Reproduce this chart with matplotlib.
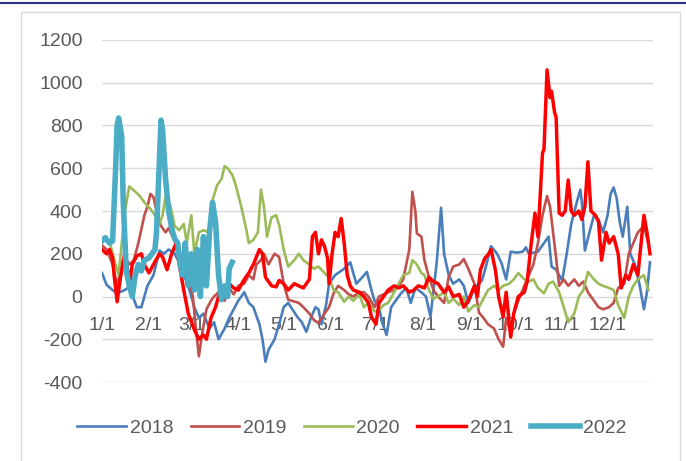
import matplotlib
matplotlib.use("Agg")
import matplotlib.pyplot as plt
from matplotlib.lines import Line2D
from matplotlib.patches import Rectangle

plt.rcParams['font.family'] = ['Liberation Sans', 'DejaVu Sans']
plt.rcParams['axes.unicode_minus'] = False

# day of year (0 = Jan 1) and value for each year
d2018 = [0, 3, 7, 10, 15, 18, 23, 26, 30, 34, 38, 41, 44, 48, 51, 54, 57, 61, 64, 67,
         71, 74, 77, 81, 84, 87, 90, 94, 97, 100, 104, 106, 108, 110, 114, 117, 120, 123, 129, 132,
         135, 138, 141, 143, 145, 148, 150, 154, 160, 164, 166, 168, 172, 175, 178, 180, 183, 185, 188, 191,
         194, 197, 201, 204, 207, 211, 214, 217, 219, 221, 224, 226, 229, 232, 236, 239, 242, 246, 251, 254,
         257, 261, 264, 267, 270, 274, 278, 280, 282, 285, 288, 292, 295, 297, 300, 304, 307, 310, 314, 316,
         317, 319, 322, 325, 328, 331, 334, 336, 338, 340, 342, 344, 347, 349, 352, 355, 358, 360, 362]
v2018 = [110, 55, 30, 15, 30, 45, -50, -50, 50, 100, 215, 200, 220, 200, 160, 100, 50, -50, -100, -80,
         -150, -120, -200, -150, -100, -60, -20, 20, -30, -50, -130, -200, -305, -250, -200, -130, -50, -30, -95, -120,
         -165, -100, -50, -60, -130, -40, 60, 100, 130, 160, 110, 60, 90, 115, 30, -20, -50, -120, -180, -50,
         -20, 10, 40, -30, 40, 20, 0, -95, 30, 150, 415, 200, 100, 60, 80, 50, -30, 40, 75, 150,
         235, 200, 155, 80, 210, 205, 210, 230, 200, 205, 210, 250, 280, 140, 125, 75, 200, 340, 450, 500,
         440, 215, 300, 380, 360, 300, 380, 480, 510, 460, 350, 280, 420, 200, 150, 60, -60, 20, 160]

d2019 = [0, 3, 7, 10, 13, 15, 18, 21, 24, 28, 30, 32, 34, 36, 39, 42, 44, 48, 51, 54,
         57, 60, 62, 64, 66, 69, 72, 74, 77, 81, 84, 87, 90, 94, 97, 100, 102, 105, 107, 110,
         114, 117, 120, 123, 130, 133, 137, 140, 143, 147, 150, 153, 156, 160, 163, 166, 170, 173, 176, 180,
         183, 186, 189, 193, 196, 199, 201, 203, 205, 207, 208, 211, 213, 216, 219, 222, 226, 229, 232, 236,
         239, 242, 246, 249, 252, 255, 259, 262, 265, 267, 270, 272, 275, 279, 282, 285, 288, 291, 294, 296,
         298, 300, 302, 305, 308, 312, 315, 318, 321, 325, 328, 331, 335, 338, 341, 345, 348, 351, 354, 358, 361]
v2019 = [240, 220, 150, 50, 150, 190, 150, 170, 250, 380, 420, 480, 465, 400, 330, 300, 320, 260, 200, 150,
         100, 0, -150, -280, -180, -60, -20, 0, 20, -20, 40, 10, 50, 60, 100, 80, 150, 170, 200, 150,
         200, 185, 60, -15, -30, -50, -80, -110, -125, -80, -50, 15, 50, 30, 10, 0, 20, 20, 0, -50,
         0, 10, 20, 30, 50, 80, 150, 220, 490, 400, 295, 280, 170, 90, 30, 0, -30, 90, 140, 150,
         175, 130, 60, -75, -100, -130, -150, -200, -235, -100, -170, -80, -20, 50, 100, 150, 250, 380, 470, 420,
         300, 180, 50, 80, 50, 80, 50, 70, 20, -20, -50, -60, -50, -30, 40, 60, 200, 250, 300, 330, 250]

d2020 = [0, 3, 6, 9, 11, 15, 18, 22, 25, 28, 32, 35, 38, 40, 42, 45, 48, 51, 54, 56,
         59, 61, 64, 67, 71, 73, 76, 79, 81, 83, 86, 88, 92, 95, 97, 100, 103, 105, 107, 109,
         112, 115, 117, 120, 123, 127, 130, 133, 137, 140, 143, 147, 150, 153, 156, 160, 163, 166, 170, 173,
         176, 180, 183, 186, 189, 193, 196, 199, 203, 205, 208, 211, 213, 216, 219, 222, 226, 229, 232, 236,
         239, 242, 246, 249, 252, 255, 259, 262, 265, 269, 272, 275, 279, 282, 285, 288, 292, 295, 298, 302,
         305, 308, 312, 315, 318, 321, 325, 328, 331, 335, 338, 341, 345, 348, 351, 354, 358, 361]
v2020 = [255, 280, 230, 150, 100, 390, 515, 490, 470, 440, 410, 380, 340, 380, 470, 430, 330, 310, 340, 250,
         380, 200, 300, 310, 300, 450, 520, 550, 610, 600, 570, 530, 420, 325, 250, 265, 300, 500, 420, 280,
         370, 380, 335, 220, 140, 170, 200, 170, 150, 130, 140, 110, 90, 30, 20, -25, 0, -20, 10, -50,
         -30, -70, -65, -40, -30, 20, 60, 100, 110, 170, 150, 110, 100, 30, -10, 0, 20, -30, -10, -40,
         0, -70, -40, -50, -10, 30, 50, 30, 50, 60, 80, 110, 80, 70, 80, 40, 15, 60, 70, 20,
         -50, -120, -80, 0, 30, 115, 80, 60, 50, 40, 30, -40, -100, 0, 50, 80, 100, 30]

d2021 = [0, 3, 5, 7, 8, 10, 12, 15, 17, 18, 20, 23, 26, 28, 31, 34, 38, 40, 43, 46,
         49, 51, 54, 57, 61, 64, 67, 69, 72, 75, 77, 81, 84, 87, 90, 94, 97, 100, 104, 106,
         108, 112, 115, 117, 120, 123, 127, 130, 133, 137, 139, 141, 143, 145, 147, 149, 150, 152, 154, 156,
         158, 160, 162, 164, 166, 170, 173, 176, 178, 181, 183, 186, 189, 193, 196, 199, 203, 206, 209, 213,
         216, 219, 222, 226, 229, 232, 236, 239, 242, 246, 248, 250, 253, 255, 257, 260, 262, 265, 267, 270,
         272, 275, 279, 281, 283, 286, 288, 291, 292, 294, 296, 297, 299, 300, 302, 304, 306, 308, 310, 312,
         315, 317, 319, 321, 323, 326, 328, 330, 333, 335, 338, 341, 343, 346, 348, 351, 354, 358, 360, 362]
v2021 = [220, 200, 220, 180, 100, -25, 80, 200, 120, 50, 150, 190, 200, 150, 110, 150, 200, 185, 125, 200,
         250, 150, 30, -80, -155, -200, -180, -200, -100, -50, 0, 20, 60, 40, 30, 80, 110, 150, 220, 200,
         90, 50, 45, 75, 60, 30, 60, 50, 40, 80, 280, 300, 200, 265, 235, 180, 60, 200, 300, 280,
         365, 250, 100, 50, 30, 20, 0, -30, -95, -130, -30, 0, 30, 50, 40, 50, 20, 30, 50, 40,
         90, 70, 60, 20, 45, 0, 10, -50, -20, 50, 0, 125, 180, 195, 220, 120, 0, -95, 20, -190,
         -80, 0, 20, 75, 215, 390, 280, 670, 690, 1060, 930, 960, 860, 840, 390, 380, 400, 545, 400, 380,
         400, 360, 420, 630, 400, 380, 350, 170, 300, 250, 280, 200, 40, 100, 80, 150, 100, 380, 300, 200]

d2022 = [0, 2, 5, 7, 9, 10, 11, 13, 14, 16, 18, 20, 22, 24, 26, 28, 31, 33, 35, 36,
         38, 39, 40, 42, 44, 46, 48, 50, 51, 53, 55, 57, 59, 61, 63, 65, 67, 69, 71, 73,
         75, 77, 79, 81, 83, 84, 86]
v2022 = [260, 275, 250, 260, 600, 800, 835, 750, 450, 125, 50, 0, 100, 150, 120, 170, 180, 200, 220, 300,
         650, 825, 780, 550, 400, 320, 270, 250, 180, 100, 250, 50, 200, 30, 220, 0, 280, 50, 300, 440,
         350, 100, -15, 50, 0, 130, 160]

month_days = [0, 31, 59, 90, 120, 151, 181, 212, 243, 273, 304, 334]
month_labels = ['1/1', '2/1', '3/1', '4/1', '5/1', '6/1', '7/1', '8/1', '9/1', '10/1', '11/1', '12/1']

series = [
    ('2018', d2018, v2018, '#4A7EBB', 1.9),
    ('2019', d2019, v2019, '#C0504D', 1.9),
    ('2020', d2020, v2020, '#9BBB59', 1.9),
    ('2021', d2021, v2021, '#FF0000', 2.5),
    ('2022', d2022, v2022, '#4BACC6', 4.0),
]

W, H = 686, 461
fig = plt.figure(figsize=(W / 100, H / 100), dpi=100)

# outer frame and the rule along the top
fig.add_artist(Line2D([0, 1], [1 - 3.5 / H] * 2, color='#2B2F86', lw=1.5))
fig.add_artist(Rectangle((21 / W, -0.05), 659 / W, 1 - 12 / H + 0.05, fill=False,
                         edgecolor='#D9D9D9', lw=1.0))

ax = fig.add_axes([102 / W, 1 - 382 / H, 551 / W, 342 / H])

for name, d, v, c, lw in series:
    ax.plot(d, v, color=c, lw=lw, label=name, solid_joinstyle='round')

ax.set_xlim(0, 364)
ax.set_ylim(-400, 1200)
ax.set_yticks(range(-400, 1201, 200))
ax.set_xticks(month_days)
ax.set_xticklabels(month_labels)
ax.grid(axis='y', color='#D9D9D9', lw=1.0)
ax.set_axisbelow(True)
for s in ['top', 'right', 'left']:
    ax.spines[s].set_visible(False)
ax.spines['bottom'].set_position(('data', 0))
ax.spines['bottom'].set_visible(False)
ax.tick_params(axis='both', length=0, labelsize=14, labelcolor='#595959')
ax.tick_params(axis='y', pad=14)
ax.tick_params(axis='x', pad=15)

fig.legend(loc='center', bbox_to_anchor=(352 / W, 1 - 428 / H), ncol=5, frameon=False,
           fontsize=14, labelcolor='#595959', handlelength=2.5, handletextpad=0.2,
           columnspacing=0.9)

fig.savefig('out.png', dpi=100)
